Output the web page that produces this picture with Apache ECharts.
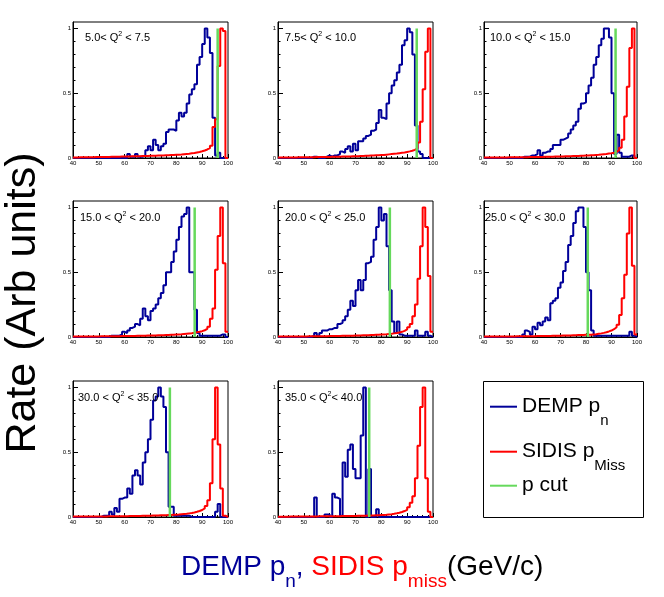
<!DOCTYPE html>
<html><head><meta charset="utf-8">
<script src="https://cdn.jsdelivr.net/npm/echarts@6/dist/echarts.min.js"></script>
<style>html,body{margin:0;padding:0;background:#fff}#c{width:664px;height:597px}</style>
</head><body><div id="c"></div>
<script>
// ---- data (bin width 1 GeV/c, first bin starts at 40) ----
const binStart = 40;
const xTicks = [40, 50, 60, 70, 80, 90, 100];
const yMajorTicks = [0, 0.5, 1];
const yMinorTicks = [0.1, 0.2, 0.3, 0.4, 0.6, 0.7, 0.8, 0.9];
const labelPre  = ['5.0< Q', '7.5< Q', '10.0 < Q', '15.0 < Q', '20.0 < Q', '25.0 < Q', '30.0 < Q', '35.0 < Q'];
const labelPost = [' < 7.5', ' < 10.0', ' < 15.0', ' < 20.0', ' < 25.0', ' < 30.0', ' < 35.0', '< 40.0'];
const pCut = [96.0, 93.7, 91.6, 87.1, 83.3, 80.7, 77.5, 75.3];

const demp1 = [0,0,0,0,0,0,0,0,0,0, 0,0,0,0,0,0,0,0,0,0,
  0,.03,.01,.01,.03,.01,.01,.02,.06,.09, .06,.14,.10,.06,.09,.11,.20,.22,.22,.21,
  .29,.35,.32,.35,.42,.49,.53,.57,.72,.78, .88,1.0,.93,.81,.31,.02,.04,0,0,0];
const sidis1 = [.004,.004,.005,.005,.005,.006,.006,.006,.007,.007, .007,.008,.008,.008,.009,.009,.010,.010,.011,.011,
  .012,.012,.013,.013,.014,.014,.015,.015,.016,.017, .017,.018,.019,.020,.020,.021,.022,.023,.024,.025,
  .026,.027,.029,.031,.033,.036,.039,.043,.047,.052, .058,.066,.076,.095,.24,.30,.71,1.0,.98,0];

const demp2 = [0,0,0,0,0,0,0,0,0,0, 0,0,0,.01,.01,0,0,0,.01,.02,
  .01,.02,.02,.03,.05,.04,.07,.09,.05,.11, .06,.13,.13,.15,.17,.18,.21,.22,.27,.37,
  .31,.30,.42,.50,.56,.60,.66,.72,.87,.91, 1.0,.97,.80,.25,.05,.03,0,0,0,0];
const sidis2 = [.003,.003,.003,.004,.004,.004,.004,.005,.005,.005, .005,.006,.006,.006,.007,.007,.007,.008,.008,.008,
  .009,.009,.010,.010,.011,.011,.012,.012,.013,.014, .014,.015,.016,.017,.018,.019,.020,.021,.022,.023,
  .024,.026,.028,.030,.032,.034,.037,.040,.043,.047, .051,.056,.063,.075,.12,.28,.53,.82,1.0,0];

const demp3 = [0,0,0,0,0,0,0,0,0,0, 0,0,0,0,0,.01,.01,.01,.02,.02,
  .03,.06,.02,.04,.05,.05,.07,.10,.10,.10, .14,.15,.16,.19,.22,.25,.28,.38,.42,.43,
  .50,.56,.62,.72,.78,.87,.92,1.0,1.0,.93, .50,.03,.18,.04,.01,.01,.01,.02,.02,0];
const sidis3 = [.003,.003,.003,.003,.004,.004,.004,.004,.004,.005, .005,.005,.005,.006,.006,.006,.006,.007,.007,.007,
  .008,.008,.008,.009,.009,.010,.010,.011,.011,.012, .012,.013,.013,.014,.015,.015,.016,.017,.018,.019,
  .020,.021,.022,.024,.025,.027,.029,.031,.034,.037, .041,.047,.060,.080,.14,.32,.55,.85,1.0,0];

const demp4 = [0,0,0,0,0,0,0,0,0,0, 0,0,0,0,.01,.01,.01,.01,.02,.04,
  .03,.05,.07,.08,.10,.09,.14,.22,.16,.13, .20,.22,.25,.30,.34,.40,.50,.50,.58,.66,
  .75,.85,.93,.95,1.0,.50,.50,.21,.03,.01, .01,.01,.01,.01,.01,.01,.01,.02,.02,0];
const sidis4 = [.003,.003,.003,.003,.003,.004,.004,.004,.004,.004, .005,.005,.005,.005,.006,.006,.006,.006,.007,.007,
  .007,.008,.008,.008,.009,.009,.010,.010,.011,.011, .012,.012,.013,.014,.014,.015,.016,.017,.018,.019,
  .020,.021,.023,.025,.027,.029,.032,.036,.040,.045, .052,.062,.080,.14,.22,.52,.78,1.0,.57,.04];

const demp5 = [0,0,0,0,0,0,0,0,0,0, 0,0,0,.01,.03,.01,.03,.05,.05,.06,
  .06,.07,.07,.10,.11,.13,.16,.21,.28,.24, .36,.44,.36,.44,.57,.58,.62,.75,.85,1.0,
  .90,.95,.70,.36,.12,.03,.12,.02,.01,.01, .01,.01,.01,.05,.01,.01,.01,.04,.01,0];
const sidis5 = [.003,.003,.003,.003,.003,.004,.004,.004,.004,.004, .004,.005,.005,.005,.005,.006,.006,.006,.006,.007,
  .007,.007,.008,.008,.009,.009,.009,.010,.010,.011, .011,.012,.013,.013,.014,.015,.016,.017,.018,.019,
  .020,.021,.023,.025,.028,.031,.035,.040,.047,.058, .075,.10,.16,.25,.45,.70,1.0,.85,.47,.04];

const demp6 = [0,0,0,0,0,0,0,0,0,0, 0,0,0,0,0,.02,.05,.04,.02,.08,
  .06,.11,.09,.12,.15,.13,.26,.28,.30,.38, .42,.51,.58,.71,.78,.88,.97,1.0,1.0,.85,
  .50,.36,.05,.01,.01,.01,.01,.01,.01,.01, .01,.01,.01,.01,.01,.01,.01,.04,.01,0];
const sidis6 = [.003,.003,.003,.003,.003,.003,.004,.004,.004,.004, .004,.004,.005,.005,.005,.005,.006,.006,.006,.006,
  .007,.007,.007,.008,.008,.008,.009,.009,.010,.010, .011,.011,.012,.012,.013,.014,.015,.015,.016,.017,
  .017,.018,.020,.022,.025,.028,.032,.037,.043,.050, .060,.075,.095,.17,.30,.48,.80,1.0,.55,.02];

const demp7 = [0,0,0,0,0,0,0,0,0,0, 0,.01,.01,.01,.04,.02,.07,.04,.14,.15,
  .15,.22,.18,.32,.36,.32,.25,.42,.50,.60, .75,.90,.93,1.0,.93,.85,.50,.08,.08,.01,
  .01,.01,.01,.01,.01,0,0,0,0,0, 0,0,0,0,0,.04,.10,0,0,0];
const sidis7 = [.003,.003,.003,.003,.003,.003,.003,.004,.004,.004, .004,.004,.004,.005,.005,.005,.005,.006,.006,.006,
  .006,.007,.007,.007,.008,.008,.009,.009,.010,.010, .011,.011,.012,.013,.013,.014,.015,.016,.017,.018,
  .019,.021,.023,.025,.028,.031,.035,.040,.046,.054, .066,.085,.13,.26,.60,1.0,.56,.22,.01,0];

const demp8 = [0,0,0,0,0,0,0,0,0,0, 0,0,0,0,.15,0,0,0,.02,.02,
  0,.18,.15,.14,.01,.42,.31,.52,.56,.37, .30,.30,.63,1.0,0,.37,0,0,.06,0,
  0,0,0,0,0,0,0,0,0,0, 0,0,0,0,0,0,0,0,0,0];
const sidis8 = [.002,.002,.002,.002,.003,.003,.003,.003,.003,.003, .004,.004,.004,.004,.004,.005,.005,.005,.005,.005,
  .005,.006,.006,.006,.007,.007,.007,.008,.008,.008, .009,.009,.010,.010,.011,.012,.012,.013,.014,.015,
  .015,.017,.020,.022,.025,.029,.033,.039,.046,.055, .075,.11,.16,.30,.55,.85,1.0,.30,.04,0];

const dempAll = [demp1, demp2, demp3, demp4, demp5, demp6, demp7, demp8];
const sidisAll = [sidis1, sidis2, sidis3, sidis4, sidis5, sidis6, sidis7, sidis8];

// ---- layout ----
const colLeft = [73, 278, 484];
const rowTop = [22, 201, 381];
const gridW = [155, 155, 153];
const gridH = 136;
const titleLeft = [85, 285, 490, 80, 285, 485, 78, 285];
const titleTop = [29.7, 29.7, 29.7, 209.7, 209.7, 209.7, 389.7, 389.7];

const BLUE = '#000099', RED = '#ff0000', GREEN = '#66d95c';
const FONT = 'Liberation Sans';

function hist(vals) {
  const d = vals.map((v, k) => [binStart + k, v]);
  d.push([binStart + vals.length, vals[vals.length - 1]]);
  return d;
}

const grids = [], xAxes = [], yAxes = [], series = [], titles = [];
for (let i = 0; i < 8; i++) {
  const r = Math.floor(i / 3), c = i % 3;
  grids.push({left: colLeft[c], top: rowTop[r], width: gridW[c], height: gridH,
    show: true, borderColor: '#000', borderWidth: 1, backgroundColor: 'transparent', containLabel: false});
  xAxes.push({type: 'value', gridIndex: i, min: xTicks[0], max: xTicks[xTicks.length - 1], interval: 10,
    axisLine: {show: true, onZero: false, lineStyle: {color: '#000', width: 1}},
    axisTick: {show: true, inside: true, length: 4, lineStyle: {color: '#000', width: 1}},
    minorTick: {show: true, splitNumber: 5, length: 2, lineStyle: {color: '#000', width: 1}},
    axisLabel: {show: true, fontSize: 6, margin: 2, color: '#000', fontFamily: FONT, showMinLabel: true, showMaxLabel: true, hideOverlap: false},
    splitLine: {show: false}, minorSplitLine: {show: false}});
  yAxes.push({type: 'value', gridIndex: i, min: 0, max: 1.05, position: 'left',
    axisLine: {show: true, onZero: false, lineStyle: {color: '#000', width: 1}},
    axisTick: {show: true, inside: true, length: 5, customValues: yMajorTicks, lineStyle: {color: '#000', width: 1}},
    axisLabel: {show: true, customValues: yMajorTicks, fontSize: 6, margin: 2, color: '#000', fontFamily: FONT,
      formatter: v => String(v)},
    splitLine: {show: false}});
  yAxes.push({type: 'value', gridIndex: i, min: 0, max: 1.05, position: 'left',
    axisLine: {show: false},
    axisTick: {show: true, inside: true, length: 2.5, customValues: yMinorTicks, lineStyle: {color: '#000', width: 1}},
    axisLabel: {show: false}, splitLine: {show: false}});

  const common = {type: 'line', xAxisIndex: i, yAxisIndex: 2 * i, step: 'end', symbol: 'none', showSymbol: false,
    clip: false, silent: true, animation: false};
  series.push(Object.assign({}, common, {name: 'DEMP', data: hist(dempAll[i]),
    lineStyle: {color: BLUE, width: 2}, itemStyle: {color: BLUE}}));
  series.push(Object.assign({}, common, {name: 'SIDIS', data: hist(sidisAll[i]),
    lineStyle: {color: RED, width: 2}, itemStyle: {color: RED}}));
  series.push({type: 'line', name: 'cut', xAxisIndex: i, yAxisIndex: 2 * i, symbol: 'none', showSymbol: false,
    silent: true, animation: false, data: [[pCut[i], 0], [pCut[i], 1]],
    lineStyle: {color: GREEN, width: 2.5}, itemStyle: {color: GREEN}});

  titles.push({left: titleLeft[i], top: titleTop[i], padding: 0,
    text: '{a|' + labelPre[i] + '}{p|2}{a|' + labelPost[i] + '}',
    textStyle: {fontWeight: 'normal', rich: {
      a: {fontSize: 11, lineHeight: 16, fontFamily: FONT, fontWeight: 'normal', color: '#000'},
      p: {fontSize: 7, lineHeight: 7, padding: [0, 0, 8, 0], fontFamily: FONT, fontWeight: 'normal', color: '#000'}
    }}});
}

titles.push({left: 181, top: 542.5, padding: 0,
  text: '{b|DEMP p}{bs|n}{b|, }{r|SIDIS p}{rs|miss}{k|(GeV/c)}',
  textStyle: {fontWeight: 'normal', rich: {
    b: {fontSize: 28, lineHeight: 49, color: BLUE, fontFamily: FONT, fontWeight: 'normal'},
    bs: {fontSize: 19, lineHeight: 19, padding: [30, 0, 0, 0], color: BLUE, fontFamily: FONT, fontWeight: 'normal'},
    r: {fontSize: 28, lineHeight: 49, color: RED, fontFamily: FONT, fontWeight: 'normal'},
    rs: {fontSize: 19, lineHeight: 19, padding: [30, 0, 0, 0], color: RED, fontFamily: FONT, fontWeight: 'normal'},
    k: {fontSize: 28, lineHeight: 49, color: '#000', fontFamily: FONT, fontWeight: 'normal'}
  }}});

const legendText = {DEMP: '{a|DEMP p}{s|n}', SIDIS: '{a|SIDIS p}{s|Miss}', cut: '{a|p cut}'};

const option = {
  animation: false,
  backgroundColor: '#fff',
  textStyle: {fontFamily: FONT},
  grid: grids, xAxis: xAxes, yAxis: yAxes, series: series, title: titles,
  legend: {show: true, orient: 'vertical', left: 490, top: 385.2, padding: 0, itemGap: 2,
    itemWidth: 27, itemHeight: 2, icon: 'rect', selectedMode: false, data: ['DEMP', 'SIDIS', 'cut'],
    formatter: name => legendText[name],
    textStyle: {color: '#000', fontFamily: FONT, fontSize: 21, rich: {
      a: {fontSize: 21, lineHeight: 43, fontFamily: FONT, color: '#000'},
      s: {fontSize: 15, lineHeight: 15, padding: [28, 0, 0, 0], fontFamily: FONT, color: '#000'}
    }}},
  graphic: [
    {type: 'rect', shape: {x: 483.5, y: 381.5, width: 160, height: 136}, style: {fill: 'none', stroke: '#000', lineWidth: 1}, silent: true},
    {type: 'text', x: 23, y: 303, rotation: Math.PI / 2, silent: true,
      style: {text: 'Rate (Arb units)', font: '43px "Liberation Sans"', fill: '#000',
        textAlign: 'center', textVerticalAlign: 'middle', align: 'center', verticalAlign: 'middle'}}
  ]
};

const chart = echarts.init(document.getElementById('c'), null, {renderer: 'canvas'});
chart.setOption(option);
</script>
</body></html>
